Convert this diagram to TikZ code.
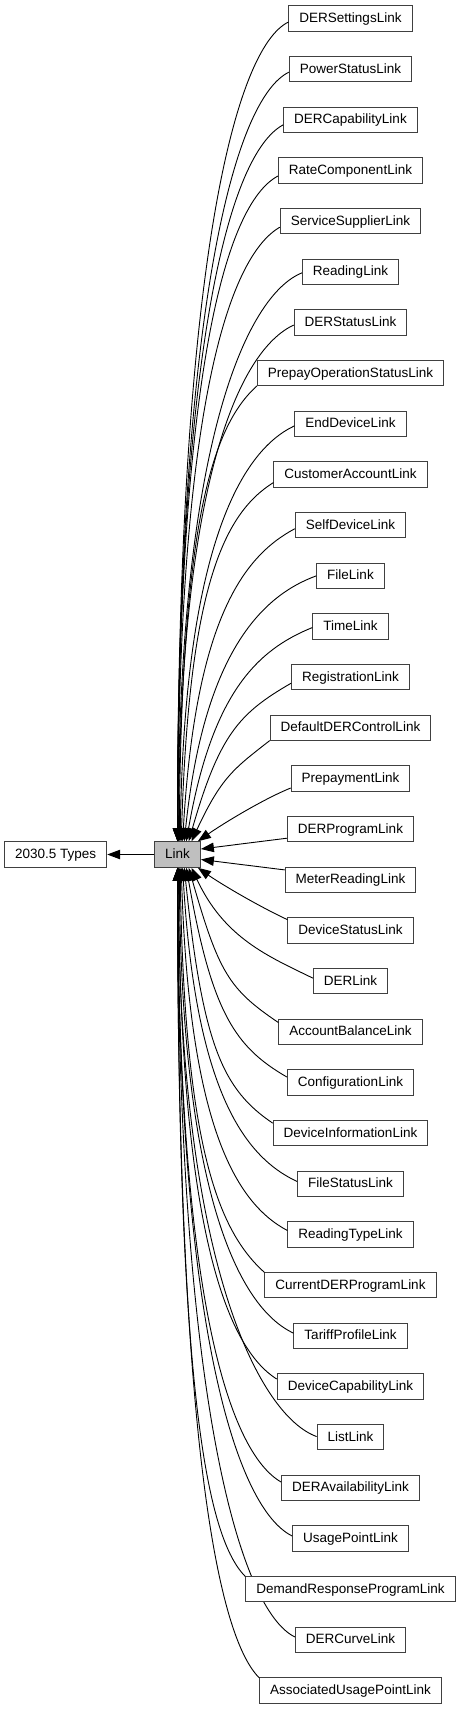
\documentclass[tikz,border=0pt]{standalone}
\usepackage{fontspec}
\setmainfont{Liberation Sans}
\usepackage{tikz}
\usetikzlibrary{arrows.meta}
\colorlet{boxline}{black!75}
\definecolor{linkfill}{HTML}{BFBFBF}

\begin{document}
\begin{tikzpicture}[x=1pt, y=1pt,
    >={Triangle[length=13pt,width=9.5pt]},
    cls/.style={draw=boxline, fill=white, line width=1pt, font=\fontsize{13.5}{15}\selectfont,
      minimum height=25.5pt, inner xsep=10.5pt, inner ysep=0pt, text height=10.8pt, text depth=3pt},
    edge/.style={->, line width=0.9pt}]
    \useasboundingbox (0,0) rectangle (457,-1709);

    % Base class and its parent
    \node[cls, fill=linkfill] (link) at (177.5,-854.5) {Link};
    \node[cls] (types) at (55.7,-854.5) {2030.5 Types};
    \draw[edge] (link) -- (types);

    % Upper children, curving down onto the top of Link
    \foreach \k/\lbl/\off/\ang in {0/DERSettingsLink/3.5/26, 1/PowerStatusLink/3/26,
        2/DERCapabilityLink/5/28, 3/RateComponentLink/5.5/28, 4/ServiceSupplierLink/6/30,
        5/ReadingLink/1/22, 6/DERStatusLink/2.5/25, 7/PrepayOperationStatusLink/12.7/42,
        8/EndDeviceLink/2/25, 9/CustomerAccountLink/8/32, 10/SelfDeviceLink/3.5/28,
        11/FileLink/0/20, 12/TimeLink/1/22, 13/RegistrationLink/6/30,
        14/DefaultDERControlLink/12.7/38} {
      \node[cls] (\lbl) at (350.5,{-18.5-50.67*\k}) {\lbl};
      \pgfmathsetmacro\xe{14*(\k/14)^3}
      \pgfmathsetmacro\inang{25*(\k/14)^6}
      \pgfmathsetmacro\dy{823.2-50.67*\k-\off}
      \pgfmathsetmacro\la{min(60,0.45*\dy)}
      \pgfmathsetmacro\lb{0.7*\dy}
      \draw[edge] ([yshift=-\off pt]\lbl.west) .. controls +(180+\ang:\la pt) and +(90-\inang:\lb pt) .. ([xshift=\xe pt]link.north);
    }

    % Lower children, mirrored onto the bottom of Link
    \foreach \k/\lbl/\off/\ang in {0/AssociatedUsagePointLink/12.7/45, 1/DERCurveLink/2.9/26,
        2/DemandResponseProgramLink/12.7/45, 3/UsagePointLink/2.5/26, 4/DERAvailabilityLink/5.8/30,
        5/ListLink/0.6/20, 6/DeviceCapabilityLink/7.4/32, 7/TariffProfileLink/2.7/25,
        8/CurrentDERProgramLink/12.7/42, 9/ReadingTypeLink/4/28, 10/FileStatusLink/2.3/25,
        11/DeviceInformationLink/10/34, 12/ConfigurationLink/5.4/30,
        13/AccountBalanceLink/9.3/34, 14/DERLink/3/26} {
      \node[cls] (\lbl) at (350.5,{-1690.5+50.67*\k}) {\lbl};
      \pgfmathsetmacro\xe{14*(\k/14)^3}
      \pgfmathsetmacro\inang{25*(\k/14)^6}
      \pgfmathsetmacro\dy{823.2-50.67*\k-\off}
      \pgfmathsetmacro\la{min(60,0.45*\dy)}
      \pgfmathsetmacro\lb{0.7*\dy}
      \draw[edge] ([yshift=\off pt]\lbl.west) .. controls +(180-\ang:\la pt) and +(-90+\inang:\lb pt) .. ([xshift=\xe pt]link.south);
    }

    % Children closest to Link
    \node[cls] (PrepaymentLink) at (350.5,-778.5) {PrepaymentLink};
    \node[cls] (DERProgramLink) at (350.5,-829.2) {DERProgramLink};
    \node[cls] (MeterReadingLink) at (350.5,-879.9) {MeterReadingLink};
    \node[cls] (DeviceStatusLink) at (350.5,-930.6) {DeviceStatusLink};
    \draw[edge] ([yshift=-9.5pt]PrepaymentLink.west) .. controls +(202:30pt) and +(35:30pt) .. ([xshift=-3pt]link.north east);
    \draw[edge] ([yshift=-9pt]DERProgramLink.west) -- ([yshift=5.5pt]link.east);
    \draw[edge] ([yshift=10pt]MeterReadingLink.west) -- ([yshift=-5pt]link.east);
    \draw[edge] ([yshift=11pt]DeviceStatusLink.west) .. controls +(155:30pt) and +(-35:30pt) .. ([xshift=-3pt]link.south east);
\end{tikzpicture}
\end{document}
